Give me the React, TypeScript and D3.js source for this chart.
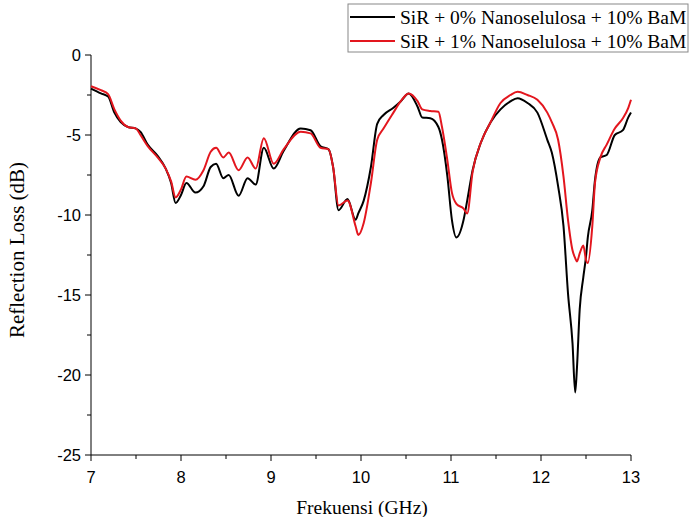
import * as d3 from 'd3'

// frequency grid (GHz) shared by both measurements
const freq = [
  7.0, 7.11, 7.19, 7.26, 7.33, 7.41, 7.5, 7.55, 7.63, 7.74, 7.83, 7.89, 7.94, 8.0, 8.06, 8.16,
  8.25, 8.33, 8.39, 8.47, 8.53, 8.64, 8.74, 8.83, 8.92, 9.03, 9.14, 9.33, 9.44, 9.55, 9.64, 9.69,
  9.75, 9.85, 9.94, 9.97, 10.03, 10.11, 10.18, 10.25, 10.36, 10.44, 10.53, 10.63, 10.68, 10.77,
  10.86, 10.9, 10.96, 11.01, 11.06, 11.14, 11.18, 11.24, 11.33, 11.44, 11.55, 11.66, 11.74, 11.85,
  11.96, 12.07, 12.12, 12.19, 12.25, 12.3, 12.35, 12.38, 12.4, 12.43, 12.47, 12.5, 12.52, 12.57,
  12.6, 12.66, 12.73, 12.82, 12.91, 12.97, 13.0
]

// SiR + 0% Nanoselulosa + 10% BaM
const rl0 = [
  -2.1, -2.4, -2.6, -3.6, -4.2, -4.5, -4.6, -4.8, -5.6, -6.3, -7.1, -8.0, -9.25, -8.75, -8.0, -8.6,
  -8.2, -7.0, -6.8, -7.7, -7.5, -8.8, -7.7, -8.1, -5.8, -7.1, -6.0, -4.6, -4.7, -5.7, -5.9, -7.0,
  -9.7, -9.0, -10.3, -9.9, -9.1, -7.0, -4.3, -3.75, -3.3, -2.9, -2.4, -3.25, -3.9, -3.95,
  -4.5, -5.3, -7.6, -10.3, -11.4, -10.3, -9.1, -7.2, -5.5, -4.2, -3.4, -2.9, -2.7, -3.0,
  -3.6, -5.3, -6.1, -8.2, -10.7, -14.9, -18.0, -21.1, -19.5, -15.9, -13.9, -12.6, -11.4, -9.7,
  -7.8, -6.4, -6.25, -5.0, -4.7, -3.9, -3.6
]

// SiR + 1% Nanoselulosa + 10% BaM
const rl1 = [
  -1.95, -2.2, -2.45, -3.4, -4.1, -4.5, -4.6, -5.0, -5.7, -6.4, -7.1, -7.9, -8.9, -8.4, -7.6, -7.8,
  -7.2, -6.05, -5.8, -6.4, -6.1, -7.2, -6.4, -7.1, -5.2, -6.8, -5.9, -4.8, -4.9, -5.8, -5.9, -7.0,
  -9.4, -9.1, -10.7, -11.25, -10.5, -8.0, -5.3, -4.6, -3.6, -2.9, -2.4, -2.9, -3.4, -3.5,
  -3.55, -4.5, -6.6, -8.6, -9.3, -9.6, -9.9, -7.3, -5.5, -4.2, -3.0, -2.5, -2.3, -2.5,
  -2.8, -3.6, -4.2, -5.3, -7.6, -10.3, -12.2, -12.7, -12.9, -12.4, -11.9, -12.8, -13.0, -10.7,
  -8.0, -6.4, -5.6, -4.6, -3.95, -3.3, -2.8
]

const series = [
  { label: 'SiR + 0% Nanoselulosa + 10% BaM', values: rl0, color: '#000000' },
  { label: 'SiR + 1% Nanoselulosa + 10% BaM', values: rl1, color: '#e3161e' }
]

const xTicks = [7, 8, 9, 10, 11, 12, 13]
const yTicks = [0, -5, -10, -15, -20, -25]

const W = 690
const H = 517
const left = 91
const right = 631
const top = 55
const bottom = 455

export default function App() {
  const x = d3.scaleLinear().domain([7, 13]).range([left, right])
  const y = d3.scaleLinear().domain([-25, 0]).range([bottom, top])
  const line = d3.line<number>()
    .x((_, i) => x(freq[i]))
    .y(d => y(d))
    .curve(d3.curveMonotoneX)

  const xMinor = d3.range(7.5, 13, 1)
  const yMinor = d3.range(-2.5, -25, -5)
  const tickFont = '"Liberation Sans", Arial, sans-serif'
  const serif = '"Liberation Serif", "Times New Roman", serif'

  return (
    <svg width={W} height={H} style={{ position: 'absolute', left: 0, top: 0, background: '#fff' }}>
      {/* axes */}
      <line x1={left} x2={left} y1={top} y2={bottom} stroke="#000" strokeWidth={1} />
      <line x1={left} x2={right} y1={bottom} y2={bottom} stroke="#000" strokeWidth={1} />
      {yTicks.map(t => (
        <g key={'y' + t}>
          <line x1={left - 6} x2={left} y1={y(t)} y2={y(t)} stroke="#000" />
          <text x={left - 10} y={y(t)} dy="0.35em" textAnchor="end" fontSize={16.5} fontFamily={tickFont}>{t}</text>
        </g>
      ))}
      {yMinor.map(t => (
        <line key={'ym' + t} x1={left - 4} x2={left} y1={y(t)} y2={y(t)} stroke="#000" />
      ))}
      {xTicks.map(t => (
        <g key={'x' + t}>
          <line x1={x(t)} x2={x(t)} y1={bottom} y2={bottom + 6} stroke="#000" />
          <text x={x(t)} y={bottom + 28} textAnchor="middle" fontSize={16.5} fontFamily={tickFont}>{t}</text>
        </g>
      ))}
      {xMinor.map(t => (
        <line key={'xm' + t} x1={x(t)} x2={x(t)} y1={bottom} y2={bottom + 4} stroke="#000" />
      ))}
      <text x={362} y={514} textAnchor="middle" fontSize={19.5} fontFamily={serif}>Frekuensi (GHz)</text>
      <text transform={`translate(24,${250}) rotate(-90)`} textAnchor="middle" fontSize={21} fontFamily={serif}>Reflection Loss (dB)</text>

      {/* curves */}
      {series.map(s => (
        <path key={s.label} d={line(s.values) || ''} fill="none" stroke={s.color} strokeWidth={2} strokeLinejoin="round" />
      ))}

      {/* legend */}
      <rect x={348} y={4} width={340} height={48} fill="#fff" stroke="#888" strokeWidth={1} />
      {series.map((s, i) => (
        <g key={'lg' + i} transform={`translate(350,${17 + i * 24})`}>
          <line x1={0} x2={45} y1={0} y2={0} stroke={s.color} strokeWidth={2} />
          <text x={50} y={0} dy="0.35em" fontSize={19.5} fontFamily={serif}>{s.label}</text>
        </g>
      ))}
    </svg>
  )
}
